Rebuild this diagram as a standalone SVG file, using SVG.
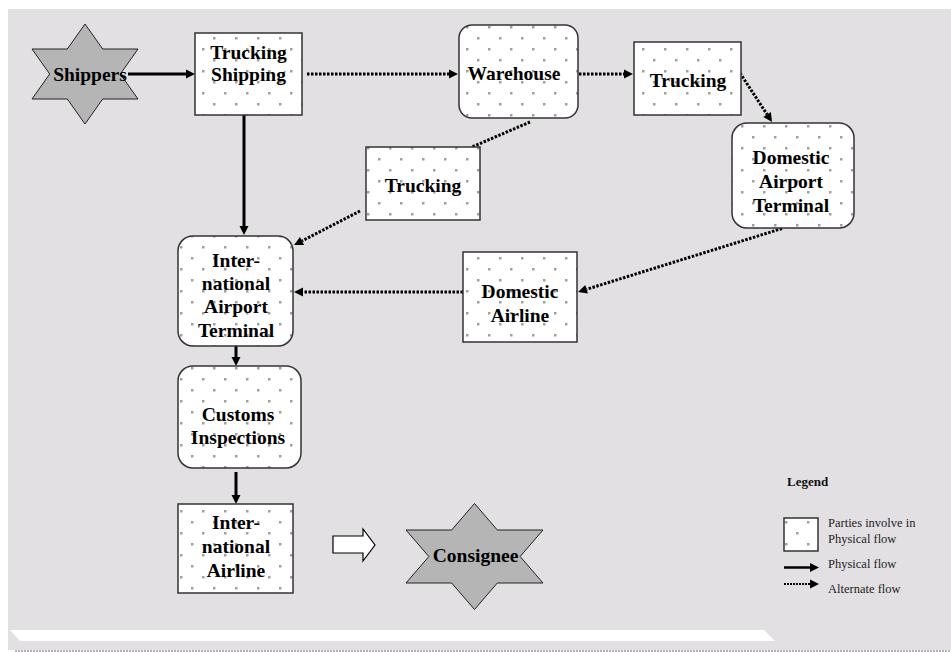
<svg xmlns="http://www.w3.org/2000/svg" width="951" height="652" viewBox="0 0 951 652">
<defs>
<pattern id="dots" width="22" height="22" patternUnits="userSpaceOnUse">
<rect width="22" height="22" fill="#ffffff"/>
<rect x="4" y="4" width="2.5" height="2.5" fill="#a0a0a0"/>
<rect x="15" y="15" width="2.5" height="2.5" fill="#a0a0a0"/>
</pattern>
<marker id="ah" markerUnits="userSpaceOnUse" markerWidth="10" markerHeight="10" viewBox="0 -5 10 10" refX="0" refY="0" orient="auto" overflow="visible">
<path d="M0,-4.5 L9,0 L0,4.5 z" fill="#000"/>
</marker>
<style>
.box{fill:url(#dots);stroke:#333;stroke-width:1.5}
.star{fill:#b5b5b5;stroke:#222;stroke-width:1}
.lbl{font-family:"Liberation Serif","Times New Roman",serif;font-weight:bold;font-size:19.5px;fill:#000;text-anchor:middle}
.solid{stroke:#000;stroke-width:3;fill:none}
.dot{stroke:#000;stroke-width:3;fill:none;stroke-dasharray:2.5 1.5}
.leg{font-family:"Liberation Serif","Times New Roman",serif;font-size:12.5px;fill:#222}
</style>
</defs>
<rect x="0" y="0" width="951" height="652" fill="#ffffff"/>
<rect x="8" y="9" width="943" height="641" fill="#e2e0e3"/>
<polygon points="10,630 764,630 775,641 20,641" fill="#ffffff"/>
<line x1="15" y1="651" x2="951" y2="651" stroke="#999" stroke-width="1.5" stroke-dasharray="2 1"/>

<g id="connectors">
<line class="solid" x1="128" y1="74" x2="186" y2="74" marker-end="url(#ah)"/>
<line class="dot" x1="307" y1="74" x2="449" y2="74" marker-end="url(#ah)"/>
<line class="dot" x1="563" y1="74" x2="624" y2="74" marker-end="url(#ah)"/>
<line class="dot" x1="740" y1="73" x2="767.1" y2="114.5" marker-end="url(#ah)"/>
<line class="dot" x1="782" y1="228.5" x2="586.6" y2="289.3" marker-end="url(#ah)"/>
<line class="dot" x1="463" y1="292" x2="303" y2="292" marker-end="url(#ah)"/>
<line class="dot" x1="530" y1="122" x2="472" y2="147"/>
<line class="dot" x1="360" y1="211" x2="302" y2="240.9" marker-end="url(#ah)"/>
<line class="solid" x1="244" y1="115" x2="244" y2="226" marker-end="url(#ah)"/>
<line class="solid" x1="236" y1="346" x2="236" y2="357" marker-end="url(#ah)"/>
<line class="solid" x1="236" y1="472" x2="236" y2="495" marker-end="url(#ah)"/>
<polygon points="333,536 363,536 363,529 375,545 363,561 363,553 333,553" fill="#fff" stroke="#000" stroke-width="1.2"/>
</g>

<g id="shippers">
<polygon class="star" points="85,24 67.3,49 32,49 49.7,74 32,99 67.3,99 85,124 102.7,99 138,99 120.3,74 138,49 102.7,49"/>
<text class="lbl" x="90" y="81">Shippers</text>
</g>
<g id="trucking-shipping">
<rect class="box" x="195" y="33" width="107" height="82"/>
<text class="lbl" x="248.5" y="59">Trucking</text>
<text class="lbl" x="248.5" y="81">Shipping</text>
</g>
<g id="warehouse">
<rect class="box" x="459" y="25" width="119" height="93" rx="13"/>
<text class="lbl" x="514" y="80">Warehouse</text>
</g>
<g id="trucking-top">
<rect class="box" x="634" y="42" width="107" height="73"/>
<text class="lbl" x="688" y="87">Trucking</text>
</g>
<g id="domestic-airport-terminal">
<rect class="box" x="732" y="123" width="122" height="105" rx="15"/>
<text class="lbl" x="791" y="164">Domestic</text>
<text class="lbl" x="791" y="188">Airport</text>
<text class="lbl" x="791" y="212">Terminal</text>
</g>
<g id="trucking-mid">
<rect class="box" x="366" y="147" width="114" height="73"/>
<text class="lbl" x="423" y="192">Trucking</text>
</g>
<g id="intl-airport-terminal">
<rect class="box" x="178" y="236" width="115" height="110" rx="15"/>
<text class="lbl" x="236" y="267">Inter-</text>
<text class="lbl" x="236" y="290">national</text>
<text class="lbl" x="236" y="313">Airport</text>
<text class="lbl" x="236" y="337">Terminal</text>
</g>
<g id="domestic-airline">
<rect class="box" x="463" y="252" width="114" height="90"/>
<text class="lbl" x="520" y="298">Domestic</text>
<text class="lbl" x="520" y="322">Airline</text>
</g>
<g id="customs-inspections">
<rect class="box" x="178" y="366" width="123" height="102" rx="15"/>
<text class="lbl" x="238" y="421">Customs</text>
<text class="lbl" x="238" y="444">Inspections</text>
</g>
<g id="intl-airline">
<rect class="box" x="178" y="504" width="115" height="89"/>
<text class="lbl" x="236" y="529">Inter-</text>
<text class="lbl" x="236" y="553">national</text>
<text class="lbl" x="236" y="577">Airline</text>
</g>
<g id="consignee">
<polygon class="star" points="474.5,503.5 451.67,530 406,530 428.83,556.5 406,583 451.67,583 474.5,609.5 497.33,583 543,583 520.17,556.5 543,530 497.33,530"/>
<text class="lbl" x="475.5" y="562">Consignee</text>
</g>

<g id="legend">
<text x="787" y="486" style="font-family:'Liberation Serif','Times New Roman',serif;font-weight:bold;font-size:13px;fill:#111">Legend</text>
<rect class="box" x="784" y="518" width="34" height="33"/>
<text class="leg" x="828" y="527">Parties involve in</text>
<text class="leg" x="828" y="543">Physical flow</text>
<line x1="784" y1="567.5" x2="810" y2="567.5" stroke="#000" stroke-width="2.5" marker-end="url(#ah)"/>
<text class="leg" x="828" y="568">Physical flow</text>
<line x1="784" y1="584" x2="810" y2="584" stroke="#000" stroke-width="2" stroke-dasharray="2 1" marker-end="url(#ah)"/>
<text class="leg" x="828" y="593">Alternate flow</text>
</g>
</svg>
